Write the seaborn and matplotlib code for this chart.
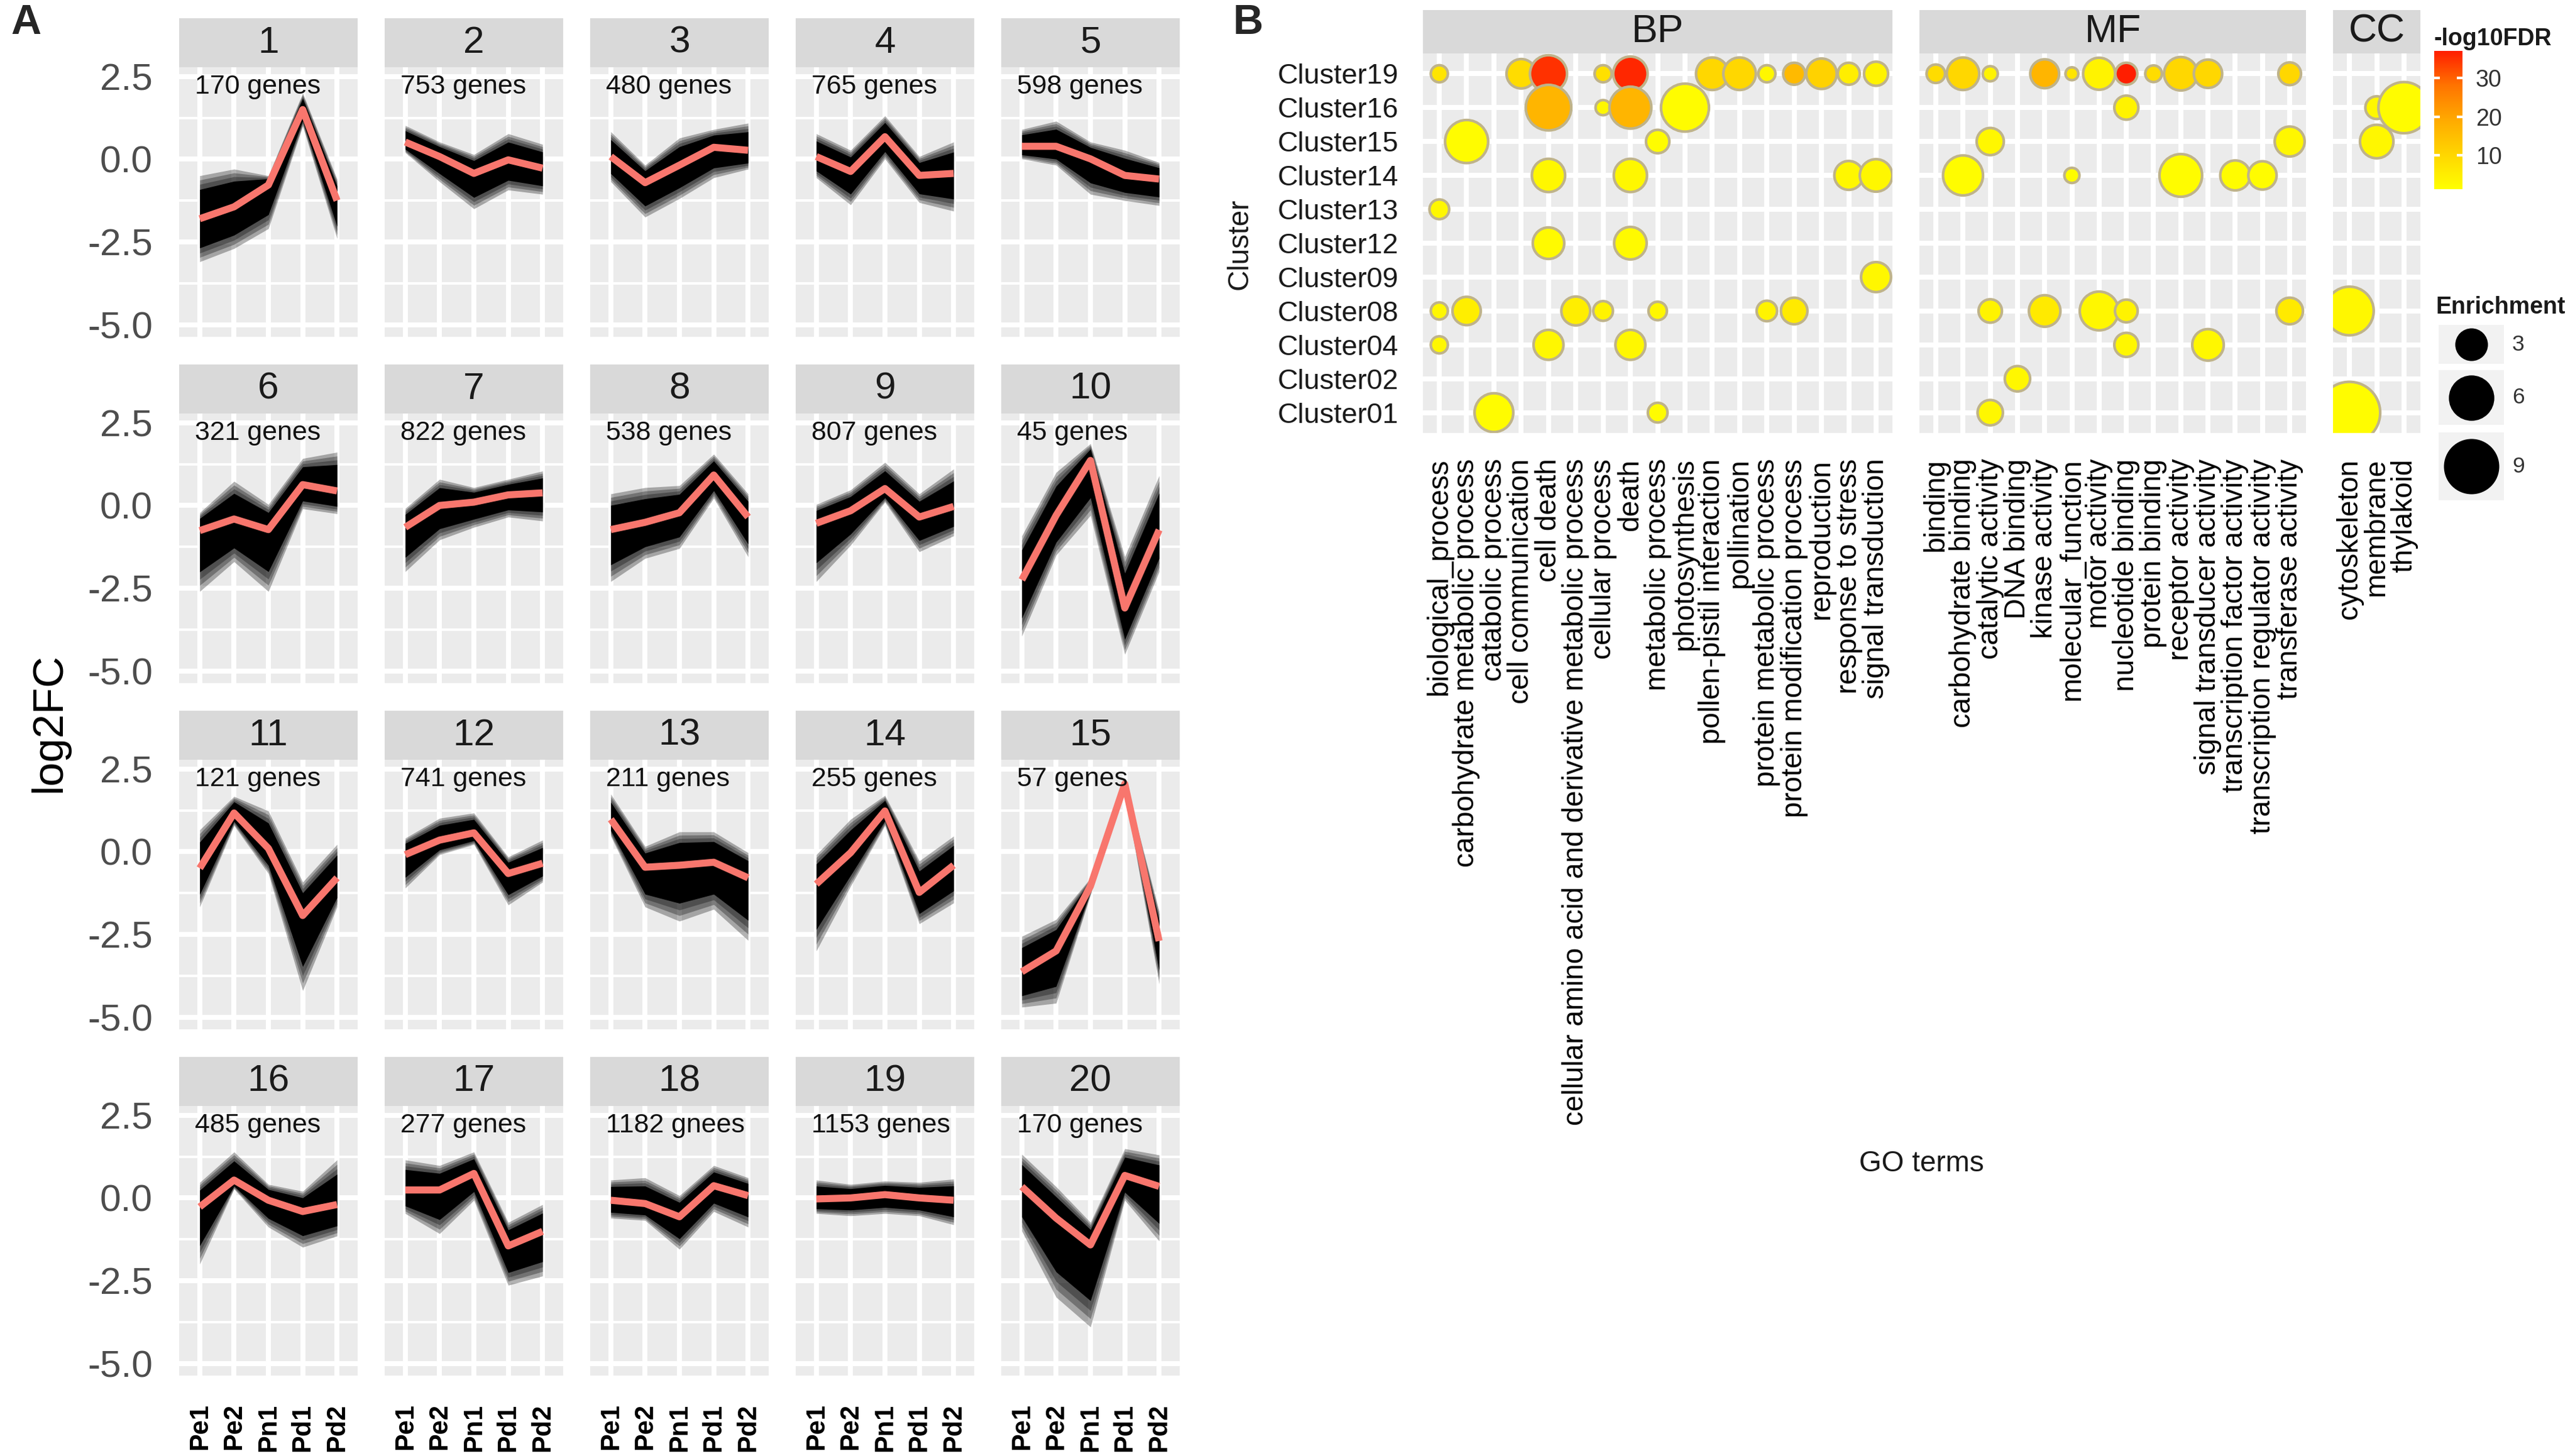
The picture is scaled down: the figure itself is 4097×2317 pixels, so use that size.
import matplotlib
matplotlib.use("Agg")
import matplotlib.pyplot as plt
import seaborn as sns
import numpy as np
import pandas as pd
from matplotlib.colors import LinearSegmentedColormap, Normalize
from matplotlib.cm import ScalarMappable
from matplotlib.patches import Rectangle

sns.set_style("white")
plt.rcParams["font.family"] = ["Liberation Sans", "DejaVu Sans"]

W, H, DPI = 4097, 2317, 300

# ---------------- panel A data ----------------
stages = ["Pe1", "Pe2", "Pn1", "Pd1", "Pd2"]
gene_labels = ["170 genes", "753 genes", "480 genes", "765 genes", "598 genes",
               "321 genes", "822 genes", "538 genes", "807 genes", "45 genes",
               "121 genes", "741 genes", "211 genes", "255 genes", "57 genes",
               "485 genes", "277 genes", "1182 gnees", "1153 genes", "170 genes"]

mean_fc = [
    [-1.80, -1.44, -0.78, 1.50, -1.25],
    [0.52, 0.08, -0.43, -0.02, -0.27],
    [0.08, -0.71, -0.18, 0.36, 0.27],
    [0.08, -0.37, 0.68, -0.49, -0.43],
    [0.39, 0.39, 0.01, -0.49, -0.60],
    [-0.76, -0.41, -0.73, 0.63, 0.44],
    [-0.66, 0.00, 0.10, 0.32, 0.38],
    [-0.73, -0.51, -0.22, 0.92, -0.35],
    [-0.54, -0.16, 0.51, -0.35, -0.03],
    [-2.25, -0.30, 1.36, -3.10, -0.74],
    [-0.50, 1.17, 0.10, -1.93, -0.79],
    [-0.09, 0.35, 0.57, -0.66, -0.35],
    [0.98, -0.47, -0.41, -0.32, -0.79],
    [-0.98, -0.03, 1.23, -1.23, -0.41],
    [-3.63, -3.00, -1.04, 2.05, -2.70],
    [-0.27, 0.54, -0.07, -0.41, -0.20],
    [0.24, 0.24, 0.74, -1.45, -1.01],
    [-0.07, -0.17, -0.57, 0.37, 0.07],
    [-0.03, 0.00, 0.10, 0.00, -0.07],
    [0.34, -0.61, -1.42, 0.68, 0.35],
]
upper_fc = [
    [-0.50, -0.30, -0.50, 2.00, -0.60],
    [1.02, 0.52, 0.14, 0.77, 0.45],
    [0.83, -0.18, 0.64, 0.90, 1.09],
    [0.77, 0.27, 1.31, 0.08, 0.52],
    [0.90, 1.15, 0.52, 0.27, -0.10],
    [-0.22, 0.73, 0.03, 1.42, 1.61],
    [-0.09, 0.79, 0.54, 0.79, 1.04],
    [0.35, 0.54, 0.60, 1.55, 0.35],
    [0.03, 0.47, 1.30, 0.35, 1.10],
    [-0.92, 1.00, 1.87, -1.55, 0.90],
    [0.66, 1.67, 1.23, -0.92, 0.22],
    [0.41, 1.01, 1.17, -0.16, 0.35],
    [1.74, 0.16, 0.60, 0.60, -0.03],
    [-0.09, 0.98, 1.70, -0.28, 0.47],
    [-2.56, -2.05, -0.80, 2.20, -1.80],
    [0.47, 1.39, 0.41, 0.20, 1.15],
    [1.15, 0.98, 1.39, -0.74, -0.20],
    [0.54, 0.61, 0.07, 0.98, 0.61],
    [0.54, 0.41, 0.51, 0.47, 0.57],
    [1.32, 0.34, -0.74, 1.49, 1.30],
]
lower_fc = [
    [-3.10, -2.70, -2.10, 1.00, -2.40],
    [0.20, -0.68, -1.50, -0.93, -1.06],
    [-0.68, -1.75, -1.19, -0.56, -0.30],
    [-0.56, -1.38, 0.01, -1.31, -1.57],
    [0.01, -0.18, -1.06, -1.25, -1.40],
    [-2.60, -1.70, -2.60, -0.10, -0.25],
    [-2.00, -1.04, -0.66, -0.35, -0.47],
    [-2.30, -1.60, -1.30, 0.22, -1.55],
    [-2.30, -1.20, 0.10, -1.40, -0.92],
    [-3.95, -1.50, -0.30, -4.50, -2.00],
    [-1.67, 0.79, -0.66, -4.20, -1.67],
    [-1.10, -0.09, 0.22, -1.61, -0.92],
    [0.47, -1.67, -2.10, -1.74, -2.68],
    [-3.00, -1.04, 0.79, -2.18, -1.55],
    [-4.70, -4.58, -1.30, 1.80, -4.00],
    [-2.00, 0.27, -0.88, -1.49, -1.15],
    [-0.47, -1.08, -0.07, -2.64, -2.36],
    [-0.61, -0.68, -1.55, -0.41, -0.88],
    [-0.47, -0.54, -0.47, -0.54, -0.81],
    [-1.00, -3.00, -3.90, -0.07, -1.30],
]

# ---------------- panel B data ----------------
clusters = ["Cluster01", "Cluster02", "Cluster04", "Cluster08", "Cluster09", "Cluster12",
            "Cluster13", "Cluster14", "Cluster15", "Cluster16", "Cluster19"]  # bottom -> top

bp_terms = ["biological_process", "carbohydrate metabolic process", "catabolic process",
            "cell communication", "cell death",
            "cellular amino acid and derivative metabolic process", "cellular process",
            "death", "metabolic process", "photosynthesis", "pollen-pistil interaction",
            "pollination", "protein metabolic process", "protein modification process",
            "reproduction", "response to stress", "signal transduction"]
mf_terms = ["binding", "carbohydrate binding", "catalytic activity", "DNA binding",
            "kinase activity", "molecular_function", "motor activity", "nucleotide binding",
            "protein binding", "receptor activity", "signal transducer activity",
            "transcription factor activity", "transcription regulator activity",
            "transferase activity"]
cc_terms = ["cytoskeleton", "membrane", "thylakoid"]

bp_cluster = ["Cluster19"] * 12 + ["Cluster16"] * 4 + ["Cluster15"] * 2 + ["Cluster14"] * 4 + \
    ["Cluster13"] + ["Cluster12"] * 2 + ["Cluster09"] + ["Cluster08"] * 7 + \
    ["Cluster04"] * 3 + ["Cluster01"] * 2
bp_term = ["biological_process", "cell communication", "cell death", "cellular process",
           "death", "pollen-pistil interaction", "pollination", "protein metabolic process",
           "protein modification process", "reproduction", "response to stress",
           "signal transduction",
           "cell death", "cellular process", "death", "photosynthesis",
           "carbohydrate metabolic process", "metabolic process",
           "cell death", "death", "response to stress", "signal transduction",
           "biological_process",
           "cell death", "death",
           "signal transduction",
           "biological_process", "carbohydrate metabolic process",
           "cellular amino acid and derivative metabolic process", "cellular process",
           "metabolic process", "protein metabolic process", "protein modification process",
           "biological_process", "cell death", "death",
           "catabolic process", "metabolic process"]
bp_enrich = [0.7, 2.5, 4.1, 0.7, 3.5, 3.1, 3.1, 0.7, 1.3, 2.7, 1.3, 1.6,
             6.3, 0.5, 5.3, 7.0,
             5.6, 1.5,
             3.25, 3.25, 2.4, 3.1,
             1.0,
             2.9, 3.1,
             2.6,
             0.7, 2.3, 2.4, 1.0, 0.85, 1.1, 2.0,
             0.7, 2.6, 2.6,
             4.5, 1.0]
bp_fdr = [7, 9, 35, 8, 36, 10, 10, 3, 16, 11, 5, 4,
          17, 3, 17, 2,
          2, 2,
          3, 3, 3, 3,
          3,
          2.5, 2.5,
          3,
          3, 5, 5, 4, 3, 4, 6,
          3, 3, 3,
          2, 2]

mf_cluster = ["Cluster19"] * 11 + ["Cluster16"] + ["Cluster15"] * 2 + ["Cluster14"] * 5 + \
    ["Cluster08"] * 5 + ["Cluster04"] * 2 + ["Cluster02"] + ["Cluster01"]
mf_term = ["binding", "carbohydrate binding", "catalytic activity", "kinase activity",
           "molecular_function", "motor activity", "nucleotide binding", "protein binding",
           "receptor activity", "signal transducer activity", "transferase activity",
           "nucleotide binding",
           "catalytic activity", "transferase activity",
           "carbohydrate binding", "molecular_function", "receptor activity",
           "transcription factor activity", "transcription regulator activity",
           "catalytic activity", "kinase activity", "motor activity", "nucleotide binding",
           "transferase activity",
           "nucleotide binding", "signal transducer activity",
           "DNA binding",
           "catalytic activity"]
mf_enrich = [0.85, 3.1, 0.5, 2.4, 0.3, 3.0, 1.3, 0.65, 3.3, 2.3, 1.4,
             1.6,
             2.1, 2.6,
             4.8, 0.5, 5.5, 2.6, 2.3,
             1.5, 2.9, 4.5, 1.4, 2.0,
             1.6, 2.9,
             1.8,
             1.8]
mf_fdr = [9, 10, 4, 17, 7, 4, 37, 9, 10, 10, 10,
          4,
          3, 3,
          2, 2, 2, 2, 2,
          4, 6, 3, 4, 6,
          3, 3,
          3,
          3]

cc_cluster = ["Cluster16", "Cluster16", "Cluster15", "Cluster08", "Cluster01"]
cc_term = ["membrane", "thylakoid", "membrane", "cytoskeleton", "cytoskeleton"]
cc_enrich = [1.4, 8.0, 3.3, 7.2, 11.7]
cc_fdr = [3, 2, 3, 3, 2]

legend_sizes = [3, 6, 9]
fdr_ticks = [10, 20, 30]
fdr_range = (1.3, 37)
enrich_range = (0, 12)

# ---------------- styling helpers ----------------
fig = plt.figure(figsize=(W / DPI, H / DPI), dpi=DPI)
fig.patch.set_facecolor("white")


def rect(l, t, r, b):
    return [l / W, 1 - b / H, (r - l) / W, (b - t) / H]


def add_strip(l, t, r, b, label, size):
    s = fig.add_axes(rect(l, t, r, b))
    s.set_facecolor("#D9D9D9")
    s.set_xticks([])
    s.set_yticks([])
    for sp in s.spines.values():
        sp.set_visible(False)
    s.text(0.5, 0.5, label, ha="center", va="center", fontsize=size,
           color="#1A1A1A", transform=s.transAxes)
    return s


def style_panel(ax):
    ax.set_facecolor("#EBEBEB")
    for sp in ax.spines.values():
        sp.set_visible(False)
    ax.set_axisbelow(True)
    ax.grid(True, which="major", color="white", linewidth=1.9)


# ---------------- panel A ----------------
xpos = np.arange(1, 6)
for i in range(20):
    row, col = divmod(i, 5)
    left = 285 + 327 * col
    top = 107 + 551 * row
    ax = fig.add_axes(rect(left, top, left + 284, top + 429))
    style_panel(ax)
    add_strip(left, top - 78, left + 284, top, str(i + 1), 14.5)

    mean = np.array(mean_fc[i])
    hi = np.array(upper_fc[i])
    lo = np.array(lower_fc[i])
    # soft-edged bundle of gene profiles: layered translucent bands + solid core
    for f in (1.0, 0.9, 0.8):
        ax.fill_between(xpos, mean + f * (lo - mean), mean + f * (hi - mean),
                        color="black", alpha=0.3, linewidth=0, zorder=2)
    ax.fill_between(xpos, mean + 0.68 * (lo - mean), mean + 0.68 * (hi - mean),
                    color="black", linewidth=0, zorder=2)
    sns.lineplot(x=xpos, y=mean, color="#F8766D", linewidth=2.7, ax=ax, zorder=3,
                 solid_joinstyle="round", solid_capstyle="butt")
    ax.text(0.85, 2.2, gene_labels[i], ha="left", va="center", fontsize=10.3,
            color="#111111", zorder=4)

    ax.set_xlim(0.4, 5.6)
    ax.set_ylim(-5.37, 2.78)
    ax.set_xticks(xpos)
    ax.set_yticks([-5, -2.5, 0, 2.5])
    ax.set_yticks([-3.75, -1.25, 1.25], minor=True)
    ax.grid(True, which="minor", axis="y", color="white", linewidth=0.95)
    ax.tick_params(which="minor", length=0)
    ax.set_xlabel("")
    ax.set_ylabel("")
    if col == 0:
        ax.set_yticklabels(["-5.0", "-2.5", "0.0", "2.5"])
        ax.tick_params(axis="y", length=4.6, width=1.3, color="#333333", pad=5.5,
                       labelsize=14.5, labelcolor="#4D4D4D")
    else:
        ax.tick_params(axis="y", length=0, labelleft=False)
    if row == 3:
        ax.set_xticklabels(stages, rotation=90, fontweight="bold")
        ax.tick_params(axis="x", length=5.2, width=1.3, color="#333333", pad=5.5,
                       labelsize=10, labelcolor="black")
    else:
        ax.tick_params(axis="x", length=0, labelbottom=False)

fig.text(78 / W, 1 - 1150 / H, "log2FC", rotation=90, ha="center", va="center",
         fontsize=16.5, color="black")
fig.text(17 / W, 1 - 6 / H, "A", ha="left", va="top", fontsize=16, fontweight="bold")
fig.text(1962 / W, 1 - 6 / H, "B", ha="left", va="top", fontsize=16, fontweight="bold")

# ---------------- panel B ----------------
cmap = LinearSegmentedColormap.from_list(
    "fdr", ["#FFFF00", "#FFD600", "#FFAA00", "#FF7400", "#FF1E00"])
norm = Normalize(*fdr_range)


def bubble_area(v, k=1.0):
    return (184 + 840 * v) * (72 / DPI) ** 2 * k


facets = [
    ("BP", bp_terms, bp_cluster, bp_term, bp_enrich, bp_fdr, 2264, 3011),
    ("MF", mf_terms, mf_cluster, mf_term, mf_enrich, mf_fdr, 3054, 3669),
    ("CC", cc_terms, cc_cluster, cc_term, cc_enrich, cc_fdr, 3712, 3851),
]
for k, (name, terms, cl, tm, en, fd, l, r) in enumerate(facets):
    df = pd.DataFrame({"cluster": cl, "term": tm, "enrichment": en, "fdr": fd})
    df["xpos"] = pd.Categorical(df["term"], categories=terms).codes
    df["ypos"] = pd.Categorical(df["cluster"], categories=clusters).codes
    ax = fig.add_axes(rect(l, 85, r, 689))
    style_panel(ax)
    add_strip(l, 15.6, r, 85, name, 15)
    sns.scatterplot(data=df, x="xpos", y="ypos", hue="fdr", size="enrichment",
                    palette=cmap, hue_norm=norm,
                    sizes=(bubble_area(enrich_range[0], 0.96),
                           bubble_area(enrich_range[1], 0.96)),
                    size_norm=enrich_range, edgecolor="#BFB38A", linewidth=1.0,
                    legend=False, ax=ax, zorder=3)
    ax.set_xlim(-0.6, len(terms) - 0.4)
    ax.set_ylim(-0.6, len(clusters) - 0.4)
    ax.set_xticks(range(len(terms)))
    ax.set_xticklabels(terms, rotation=90)
    ax.set_yticks(range(len(clusters)))
    ax.set_xlabel("")
    ax.set_ylabel("")
    ax.tick_params(axis="x", length=4.0, width=1.3, color="#333333", pad=5.8,
                   labelsize=11, labelcolor="black")
    if k == 0:
        ax.set_yticklabels(clusters)
        ax.tick_params(axis="y", length=4.3, width=1.3, color="#333333", pad=5,
                       labelsize=10.8, labelcolor="#1A1A1A")
    else:
        ax.tick_params(axis="y", length=0, labelleft=False)

fig.text(3057 / W, 1 - 1852 / H, "GO terms", ha="center", va="center",
         fontsize=11, color="#1A1A1A")
fig.text(1973 / W, 1 - 388 / H, "Cluster", rotation=90, ha="center", va="center",
         fontsize=11, color="#1A1A1A")

# colour legend
cax = fig.add_axes(rect(3873, 81, 3918, 301))
cb = fig.colorbar(ScalarMappable(norm=norm, cmap=cmap), cax=cax)
cb.outline.set_visible(False)
cb.set_ticks(fdr_ticks)
cax.tick_params(length=0, pad=5, labelsize=9, labelcolor="#333333")
cax.hlines(fdr_ticks, 0, 0.2, color="white", linewidth=1.0)
cax.hlines(fdr_ticks, 0.8, 1.0, color="white", linewidth=1.0)
fig.text(3873 / W, 1 - 62 / H, "-log10FDR", ha="left", va="center", fontsize=9,
         fontweight="bold", color="#1A1A1A")

# size legend
fig.text(3875 / W, 1 - 489 / H, "Enrichment", ha="left", va="center", fontsize=9,
         fontweight="bold", color="#1A1A1A")
lax = fig.add_axes(rect(3860, 440, 4097, 820))
lax.set_xlim(3860, 4097)
lax.set_ylim(820, 440)
lax.axis("off")
key_boxes = [(517, 579), (589, 676), (688, 796)]
for v, (t, b) in zip(legend_sizes, key_boxes):
    lax.add_patch(Rectangle((3880, t), 104, b - t, facecolor="#F2F2F2", edgecolor="none"))
    lax.scatter([3932], [(t + b) / 2], s=bubble_area(v), color="black", linewidths=0,
                zorder=3)
    lax.text(3997, (t + b) / 2, str(v), ha="left", va="center", fontsize=8.5,
             color="#333333")

fig.savefig("out.png", dpi=DPI, facecolor="white")
